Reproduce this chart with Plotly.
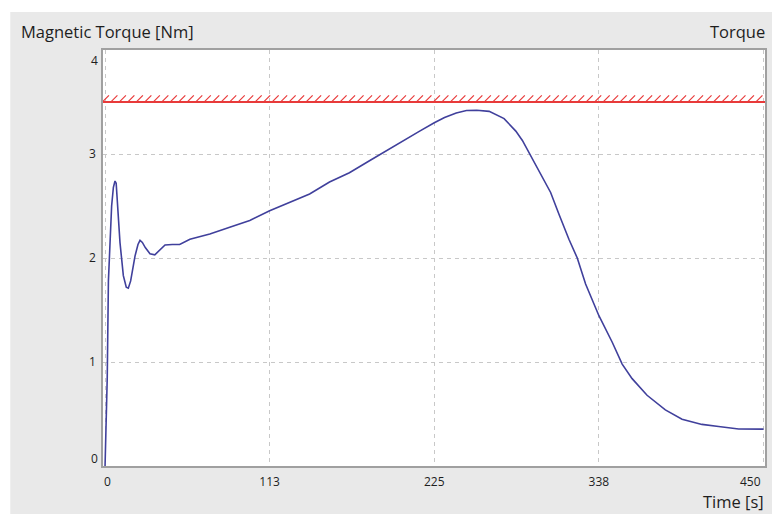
import numpy as np
import plotly.graph_objects as go

# ---- data ----
time_s = [0, 0.7, 1.5, 2.3, 3.4, 4.5, 5.7, 6.8, 7.6, 8.5, 10.2, 12.5, 14.5, 15.9, 17.5,
          20.5, 22.5, 23.9, 25.5, 27.5, 30.7, 34, 37, 41, 46, 51, 58, 63.4, 71.6, 85.2,
          98.9, 112.5, 126.1, 139.8, 153.4, 167, 180.7, 194.3, 205.7, 215, 225, 232,
          240, 247, 254, 258, 262.5, 272.7, 280.7, 285.2, 289.8, 296.6, 304.5, 310.2,
          317, 322.7, 328.4, 337.5, 346.6, 353.4, 360.2, 370.4, 382.9, 394.3, 407.9,
          419.3, 433, 450]
torque_nm = [0, 0.42, 0.85, 1.78, 2.2, 2.5, 2.68, 2.74, 2.72, 2.5, 2.15, 1.83, 1.72, 1.71,
             1.78, 2.02, 2.13, 2.17, 2.15, 2.1, 2.04, 2.03, 2.07, 2.125, 2.13, 2.13, 2.18,
             2.2, 2.23, 2.295, 2.36, 2.455, 2.535, 2.615, 2.73, 2.82, 2.935, 3.05, 3.14,
             3.22, 3.30, 3.35, 3.395, 3.418, 3.42, 3.418, 3.41, 3.34, 3.22, 3.13, 3.01,
             2.84, 2.63, 2.42, 2.18, 2.0, 1.75, 1.445, 1.19, 0.98, 0.84, 0.68, 0.54, 0.45,
             0.40, 0.38, 0.356, 0.355]
torque_limit = 3.5

x_tick_vals = [0, 112.5, 225, 337.5, 450]
x_tick_text = ["0", "113", "225", "338", "450"]
y_tick_vals = [0, 1, 2, 3, 4]
y_tick_text = ["0", "1", "2", "3", "4"]

# ---- style ----
X_RANGE = [-1.4, 451]
Y_RANGE = [0, 4]
FONT = "Segoe UI, Open Sans, sans-serif"
TXT = "#1e1e1e"
GRID = "#c8c8c8"
BG = "#e9e9e9"
TICK_SIZE = 12
TITLE_SIZE = 16.5

fig = go.Figure()

# limit line with hatch marks
fig.add_trace(go.Scatter(x=X_RANGE, y=[torque_limit, torque_limit], mode="lines",
                         line=dict(color="#e83a3a", width=2), hoverinfo="skip",
                         showlegend=False))
hatch_x = np.arange(X_RANGE[0] + 2, X_RANGE[1], 5.8)
fig.add_trace(go.Scatter(x=hatch_x, y=[torque_limit + 0.035] * len(hatch_x), mode="markers",
                         marker=dict(symbol="line-ne", size=6,
                                     line=dict(color="#e83a3a", width=1.2)),
                         hoverinfo="skip", showlegend=False))

fig.add_trace(go.Scatter(x=time_s, y=torque_nm, mode="lines",
                         line=dict(color="#40409c", width=1.6), showlegend=False))

axis_common = dict(showline=True, linecolor="#a0a0a0", linewidth=1.5, mirror=True,
                   showgrid=True, gridcolor=GRID, griddash="4px,4px", gridwidth=1,
                   zeroline=False, ticks="", fixedrange=True,
                   tickfont=dict(family=FONT, size=TICK_SIZE, color=TXT))

fig.update_xaxes(range=X_RANGE, tickvals=x_tick_vals,
                 ticktext=["", "113", "225", "338", ""], ticklabelstandoff=4, **axis_common)
fig.update_yaxes(range=Y_RANGE, tickvals=y_tick_vals,
                 ticktext=["", "1", "2", "3", ""], ticklabelstandoff=3, **axis_common)

W, H = 772, 514
L, R, T, B = 103, 5, 50, 48
pw, ph = W - L - R, H - T - B

def px(xp):
    return (xp - L) / pw

def py(yp):
    return (H - B - yp) / ph

annotations = [
    dict(text="Magnetic Torque [Nm]", xref="paper", yref="paper", x=px(19), y=py(32),
         xanchor="left", yanchor="middle", showarrow=False,
         font=dict(family=FONT, size=TITLE_SIZE, color=TXT)),
    dict(text="Torque", xref="paper", yref="paper", x=px(769), y=py(32),
         xanchor="right", yanchor="middle", showarrow=False,
         font=dict(family=FONT, size=TITLE_SIZE, color=TXT)),
    dict(text="Time [s]", xref="paper", yref="paper", x=px(768), y=py(501),
         xanchor="right", yanchor="middle", showarrow=False,
         font=dict(family=FONT, size=TITLE_SIZE, color=TXT)),
    # edge tick labels, kept inside the plot span as in the reference
    dict(text=x_tick_text[0], xref="x", yref="paper", x=x_tick_vals[0], y=py(481),
         xanchor="left", yanchor="middle", xshift=-3, showarrow=False,
         font=dict(family=FONT, size=TICK_SIZE, color=TXT)),
    dict(text=x_tick_text[-1], xref="x", yref="paper", x=x_tick_vals[-1], y=py(481),
         xanchor="right", yanchor="middle", xshift=-1, showarrow=False,
         font=dict(family=FONT, size=TICK_SIZE, color=TXT)),
    dict(text=y_tick_text[0], xref="paper", yref="y", x=px(100), y=y_tick_vals[0],
         xanchor="right", yanchor="bottom", yshift=-3, showarrow=False,
         font=dict(family=FONT, size=TICK_SIZE, color=TXT)),
    dict(text=y_tick_text[-1], xref="paper", yref="y", x=px(100), y=y_tick_vals[-1],
         xanchor="right", yanchor="top", yshift=0, showarrow=False,
         font=dict(family=FONT, size=TICK_SIZE, color=TXT)),
]

shapes = [
    dict(type="rect", xref="paper", yref="paper", x0=px(-5), x1=px(W + 5), y0=py(12), y1=py(-5),
         fillcolor="white", line=dict(width=0), layer="above"),
    dict(type="rect", xref="paper", yref="paper", x0=px(-5), x1=px(10), y0=py(H + 5), y1=py(-5),
         fillcolor="white", line=dict(width=0), layer="above"),
]

fig.update_layout(width=W, height=H, margin=dict(l=L, r=R, t=T, b=B),
                  paper_bgcolor=BG, plot_bgcolor="white",
                  annotations=annotations, shapes=shapes, showlegend=False)

fig.write_html("out.html", config={"displayModeBar": False},
               post_script="document.body.style.margin='0';document.body.style.padding='0';")
